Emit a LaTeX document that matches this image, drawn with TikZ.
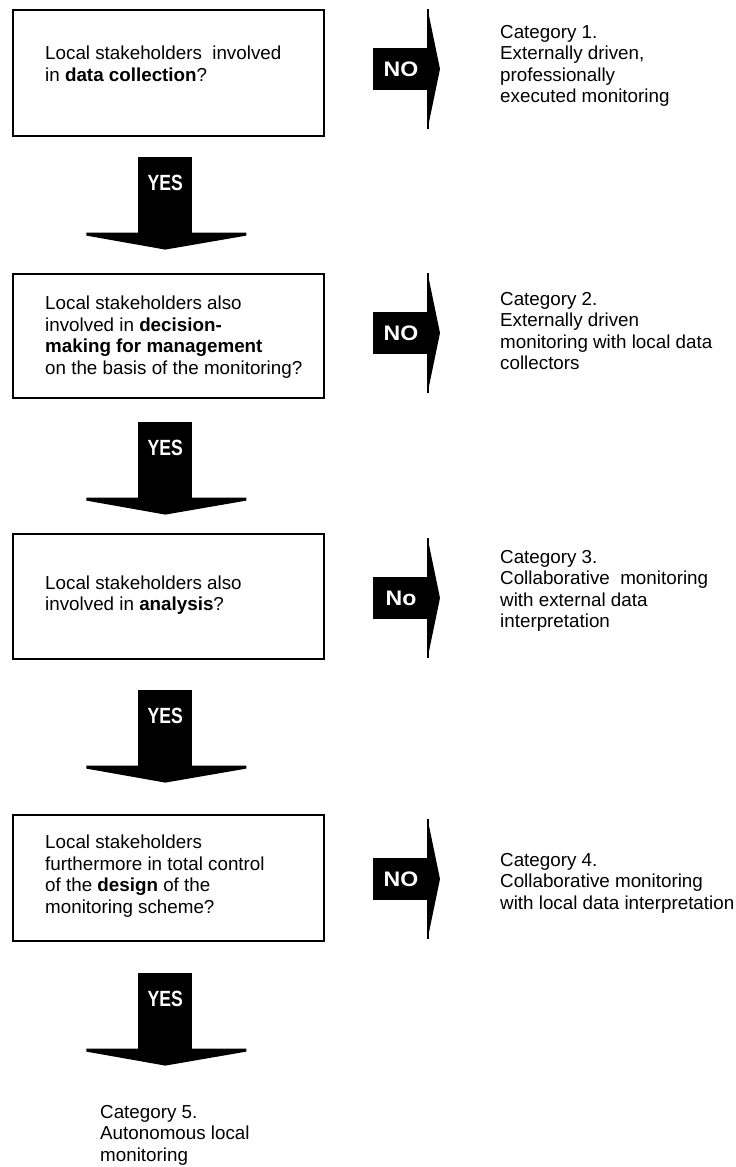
\documentclass[tikz,border=0pt]{standalone}
\usepackage{fontspec}
\setmainfont{Liberation Sans}
\usepackage{graphicx}
\usetikzlibrary{calc}
\begin{document}
\begin{tikzpicture}[x=1pt,y=-1pt,
  qbox/.style={draw=black,line width=1.6pt,minimum width=311pt,inner sep=0pt,anchor=north west},
  qtext/.style={anchor=west,align=left,font=\fontsize{18.8}{21.5}\selectfont,inner sep=0pt},
  cattext/.style={anchor=north west,align=left,font=\fontsize{18.8}{21.5}\selectfont,inner sep=0pt},
  yeslbl/.style={text=white,font=\bfseries\fontsize{22}{22}\selectfont,inner sep=0pt},
  nolbl/.style={text=white,font=\bfseries\fontsize{21}{21}\selectfont,inner sep=0pt},
  pics/yesarrow/.style={code={
    \fill[black] (-27,0) rectangle (27,77);
    \fill[black] (-79,76) -- (81,76) -- (81,79) -- (0,93) -- (-79,79) -- cycle;
    \node[yeslbl] at (0,26) {\scalebox{0.8}[1]{YES}};
  }},
  pics/noarrow/.style={code={
    \fill[black] (-55,-21) rectangle (0,21);
    \draw[line width=2.2pt] (0,-60) -- (0,60);
    \fill[black] (0,-58) -- (12,0) -- (0,58) -- cycle;
    \node[nolbl] at (-27,0) {\scalebox{1.1}[1]{#1}};
  }},
]
\useasboundingbox (0,0) rectangle (736,1167);

% question boxes
\node[qbox,minimum height=126pt] (q1) at (12,9) {};
\node[qbox,minimum height=124pt] (q2) at (12,273) {};
\node[qbox,minimum height=125pt] (q3) at (12,533) {};
\node[qbox,minimum height=126pt] (q4) at (12,814) {};

\node[qtext] (t1) at (45,64) {Local stakeholders\ \ involved\\in \textbf{data collection}?};
\node[qtext] (t2) at (45,337) {Local stakeholders also\\involved in \textbf{decision-}\\\textbf{making for management}\\on the basis of the monitoring?};
\node[qtext] (t3) at (45,595) {Local stakeholders also\\involved in \textbf{analysis}?};
\node[qtext] (t4) at (45,876) {Local stakeholders\\furthermore in total control\\of the \textbf{design} of the\\monitoring scheme?};

% categories
\node[cattext] (c1) at (500,25) {Category 1.\\Externally driven,\\professionally\\executed monitoring};
\node[cattext] (c2) at (500,292) {Category 2.\\Externally driven\\monitoring with local data\\collectors};
\node[cattext] (c3) at (500,550) {Category 3.\\Collaborative\ \ monitoring\\with external data\\interpretation};
\node[cattext] (c4) at (500,853) {Category 4.\\Collaborative monitoring\\with local data interpretation};
\node[cattext] (c5) at (100,1105) {Category 5.\\Autonomous local\\monitoring};

% YES arrows (connectors between boxes)
\coordinate (y1) at ($(q1.south)+(-3,20)$);
\coordinate (y2) at ($(q2.south)+(-3,23)$);
\coordinate (y3) at ($(q3.south)+(-3,30)$);
\coordinate (y4) at ($(q4.south)+(-3,31)$);
\pic at (y1) {yesarrow};
\pic at (y2) {yesarrow};
\pic at (y3) {yesarrow};
\pic at (y4) {yesarrow};

% NO arrows
\coordinate (n1) at (428,69);
\coordinate (n2) at (428,333);
\coordinate (n3) at (428,598);
\coordinate (n4) at (428,879);
\pic at (n1) {noarrow=NO};
\pic at (n2) {noarrow=NO};
\pic at (n3) {noarrow=No};
\pic at (n4) {noarrow=NO};
\end{tikzpicture}
\end{document}
